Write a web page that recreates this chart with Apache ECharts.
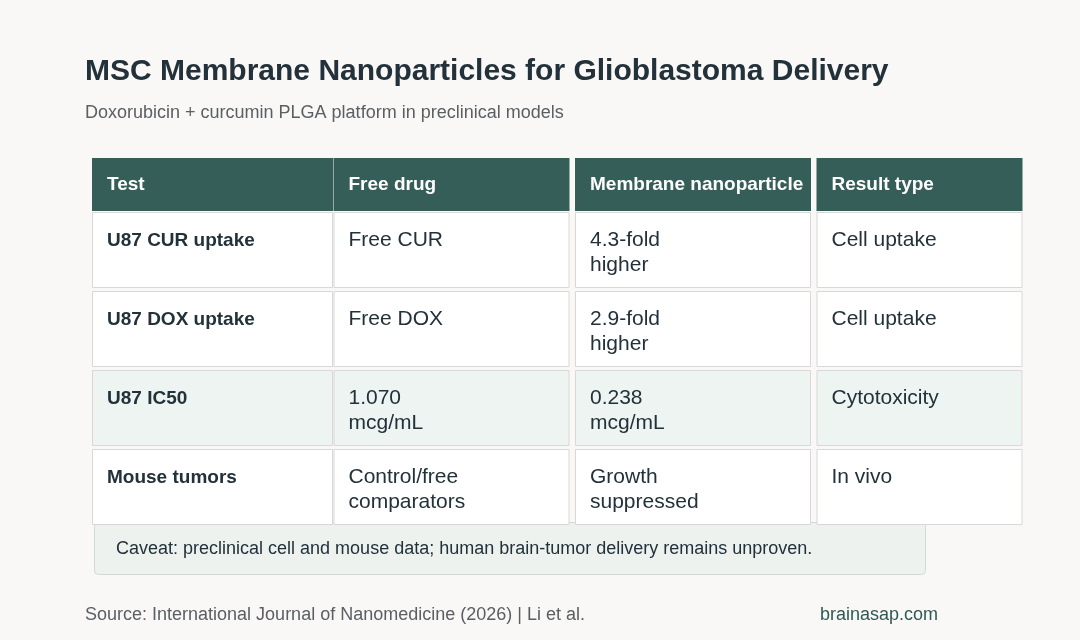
<!DOCTYPE html><html><head><meta charset="utf-8">
<script src="https://cdn.jsdelivr.net/npm/echarts@6/dist/echarts.min.js"></script>
<style>html,body{margin:0;background:#f9f8f6}#c{width:1080px;height:640px}</style></head><body><div id="c"></div>
<script>
const columns = ['Test','Free drug','Membrane nanoparticles','Result type'];
const tests = ['U87 CUR uptake','U87 DOX uptake','U87 IC50','Mouse tumors'];
const freeDrug = ['Free CUR','Free DOX','1.070\nmcg/mL','Control/free\ncomparators'];
const nanoparticles = ['4.3-fold\nhigher','2.9-fold\nhigher','0.238\nmcg/mL','Growth\nsuppressed'];
const resultType = ['Cell uptake','Cell uptake','Cytotoxicity','In vivo'];
const highlightRow = 2;

const font = 'Liberation Sans, Arial, sans-serif';
const data = [];
columns.forEach((c,i)=>data.push([i,0,c]));
const cols=[tests,freeDrug,nanoparticles,resultType];
cols.forEach((arr,ci)=>arr.forEach((v,ri)=>data.push([ci,ri+1,v])));

const HEADER_TOP=158, HEADER_H=53, ROW_TOP=212, ROW_H=75, ROW_PITCH=79, CELL_W=241;
const chart = echarts.init(document.getElementById('c'));
chart.setOption({
  backgroundColor:'#f9f8f6',
  title:[{text:'MSC Membrane Nanoparticles for Glioblastoma Delivery',left:80,top:52,textStyle:{fontFamily:font,fontSize:30,fontWeight:'bold',color:'#22313a'}},
         {text:'Doxorubicin + curcumin PLGA platform in preclinical models',left:80,top:99,textStyle:{fontFamily:font,fontSize:18,fontWeight:'normal',color:'#5a5f63'}},
         {text:'Source: International Journal of Nanomedicine (2026) | Li et al.',left:80,top:601,textStyle:{fontFamily:font,fontSize:18,fontWeight:'normal',color:'#5a5f63'}},
         {text:'brainasap.com',left:815,top:601,textStyle:{fontFamily:font,fontSize:18,fontWeight:'normal',color:'#2f5a55'}}],
  grid:{left:92,right:22,top:158,bottom:116},
  xAxis:{type:'category',data:columns,show:false,boundaryGap:false,min:0,max:3.9},
  yAxis:{type:'value',show:false,min:0,max:4},
  series:[{type:'custom',data:data,encode:{x:0,y:1},
    renderItem:(params,api)=>{
      const ci=api.value(0), ri=api.value(1), txt=data[params.dataIndex][2];
      const x=api.coord([ci,0])[0];
      const w = ci===3?206:CELL_W-(ci===0?0:5);
      const xs = ci===0?92:x;
      if(ri===0){
        return {type:'group',children:[
          {type:'rect',shape:{x:xs,y:HEADER_TOP,width:w,height:HEADER_H},style:{fill:'#365e58'}},
          {type:'text',x:xs+15,y:HEADER_TOP+HEADER_H/2,style:{text:txt,fill:'#fff',font:'bold 19px '+font,verticalAlign:'middle',width:w-15,overflow:'truncate',ellipsis:''}}]};
      }
      const y=ROW_TOP+(ri-1)*ROW_PITCH;
      return {type:'group',children:[
        {type:'rect',shape:{x:xs+0.5,y:y+0.5,width:w-1,height:ROW_H},style:{fill:(ri-1)===highlightRow?'#edf4f1':'#fff',stroke:'#d8d8d8',lineWidth:1}},
        {type:'text',x:xs+15,y:y+16,style:{text:txt,fill:'#22313a',font:(ci===0?'bold 19px ':'21px ')+font,lineHeight:25}}]};
    }}],
  graphic:[{type:'group',children:[
    {type:'rect',shape:{x:94.5,y:522.5,width:831,height:52,r:4},style:{fill:'#edf2ef',stroke:'#d0dbd5'}},
    {type:'text',x:116,y:549,style:{text:'Caveat: preclinical cell and mouse data; human brain-tumor delivery remains unproven.',fill:'#22313a',font:'18px '+font,verticalAlign:'middle'}}]}]
});
</script></body></html>
